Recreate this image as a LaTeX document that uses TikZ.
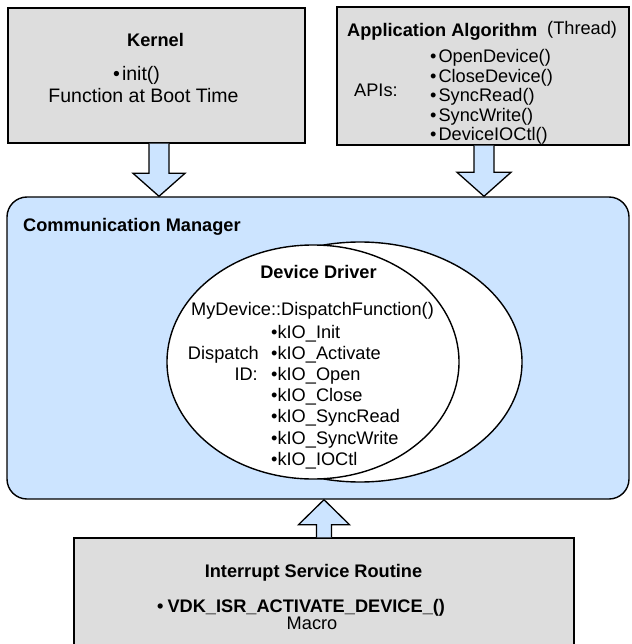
\documentclass[tikz,border=0pt]{standalone}
\usepackage{fontspec}
\setmainfont{Liberation Sans}
\usetikzlibrary{shapes.geometric,calc}
\definecolor{boxgray}{RGB}{221,221,221}
\definecolor{cmblue}{RGB}{204,228,255}
\newcommand\myblockarrow[5]{%
  \coordinate (ba-b) at ($(#2)!#5!(#1)$);
  \fill[cmblue] ($(#1)!#3!90:(#2)$) -- ($(ba-b)!#3!90:(#2)$) -- ($(ba-b)!#4!90:(#2)$) -- (#2) -- ($(ba-b)!#4!-90:(#2)$) -- ($(ba-b)!#3!-90:(#2)$) -- ($(#1)!#3!-90:(#2)$) -- cycle;
  \draw[blockarr] ($(#1)!#3!90:(#2)$) -- ($(ba-b)!#3!90:(#2)$) -- ($(ba-b)!#4!90:(#2)$) -- (#2) -- ($(ba-b)!#4!-90:(#2)$) -- ($(ba-b)!#3!-90:(#2)$) -- ($(#1)!#3!-90:(#2)$);
}
\begin{document}
\begin{tikzpicture}[x=1pt,y=-1pt,
  box/.style={draw=black,line width=1.3pt,fill=boxgray,inner sep=0pt},
  txt/.style={inner sep=0pt,font=\fontsize{18.2}{20}\selectfont},
  txtbig/.style={inner sep=0pt,font=\fontsize{19.5}{22}\selectfont},
  btxt/.style={inner sep=0pt,font=\fontsize{18.2}{20}\selectfont\bfseries},
  blockarr/.style={draw=black,line width=1.3pt,line join=miter},
  ell/.style={ellipse,draw=black,line width=1.4pt,fill=white,inner sep=0pt}]
\useasboundingbox (0,0) rectangle (631,644);

% boxes
\node[box,minimum width=297pt,minimum height=135pt] (kernel) at (156.5,75.5) {};
\node[box,minimum width=292pt,minimum height=138pt] (app) at (483,76) {};
\node[draw=black,line width=1.4pt,fill=cmblue,rounded corners=20pt,minimum width=622pt,minimum height=302pt,inner sep=0pt] (comm) at (318,348) {};
\node[box,minimum width=500pt,minimum height=126pt] (isr) at (324,601) {};

% block arrows
\coordinate (kax) at (159,0);
\coordinate (aax) at (484,0);
\coordinate (iax) at (324,0);
\coordinate (ka1) at (kax |- kernel.south);
\coordinate (ka2) at (kax |- comm.north);
\coordinate (aa1) at (aax |- app.south);
\coordinate (aa2) at (aax |- comm.north);
\coordinate (ia1) at (iax |- isr.north);
\coordinate (ia2) at (iax |- comm.south);
\myblockarrow{ka1}{ka2}{10pt}{26pt}{23pt}
\myblockarrow{aa1}{aa2}{10pt}{27pt}{24pt}
\myblockarrow{ia1}{ia2}{7.5pt}{25.5pt}{25pt}

% ellipses
\node[ell,minimum width=324pt,minimum height=240pt] (back) at (360,362) {};
\node[ell,minimum width=292pt,minimum height=234pt] (front) at (313,362) {};

% kernel text
\node[btxt,anchor=base] (kt) at (155.5,46.5) {Kernel};
\node[txtbig,anchor=base west] (ki) at (113,81) {•\kern2pt init()};
\node[txtbig,anchor=base] (kf) at (143.5,103) {Function at Boot Time};

% application text
\node[btxt,anchor=base west] (at) at (347,37) {Application Algorithm};
\node[txt,anchor=base west] (ath) at (547,35) {(Thread)};
\node[txt,anchor=base west] (apis) at (354,97) {APIs:};
\node[txt,anchor=base west] (a1) at (430,63) {•\kern2pt OpenDevice()};
\node[txt,anchor=base west] (a2) at (430,82.5) {•\kern2pt CloseDevice()};
\node[txt,anchor=base west] (a3) at (430,102) {•\kern2pt SyncRead()};
\node[txt,anchor=base west] (a4) at (430,121.5) {•\kern2pt SyncWrite()};
\node[txt,anchor=base west] (a5) at (430,141) {•\kern2pt DeviceIOCtl()};

% communication manager
\node[btxt,anchor=base west] (cml) at (23,231) {Communication Manager};

% device driver
\node[btxt,anchor=base] (ddt) at (318.5,278) {Device Driver};
\node[txt,anchor=base] (mdf) at (312.5,315) {MyDevice::DispatchFunction()};
\node[txt,anchor=base west] (d1) at (271,338) {•kIO\_Init};
\node[txt,anchor=base west] (d2) at (271,359.2) {•kIO\_Activate};
\node[txt,anchor=base west] (d3) at (271,380.4) {•kIO\_Open};
\node[txt,anchor=base west] (d4) at (271,401.6) {•kIO\_Close};
\node[txt,anchor=base west] (d5) at (271,422.8) {•kIO\_SyncRead};
\node[txt,anchor=base west] (d6) at (271,444) {•kIO\_SyncWrite};
\node[txt,anchor=base west] (d7) at (271,465.2) {•kIO\_IOCtl};
\node[txt,anchor=base east] (dsp) at (259,359.2) {Dispatch};
\node[txt,anchor=base east] (idl) at (258,380.4) {ID:};

% ISR text
\node[btxt,anchor=base] (isrt) at (313.5,577) {Interrupt Service Routine};
\node[btxt,anchor=base west] (vdk) at (157,612) {•\kern4pt VDK\_ISR\_ACTIVATE\_DEVICE\_()};
\node[txt,anchor=base] (mac) at (312,629) {Macro};
\end{tikzpicture}
\end{document}
